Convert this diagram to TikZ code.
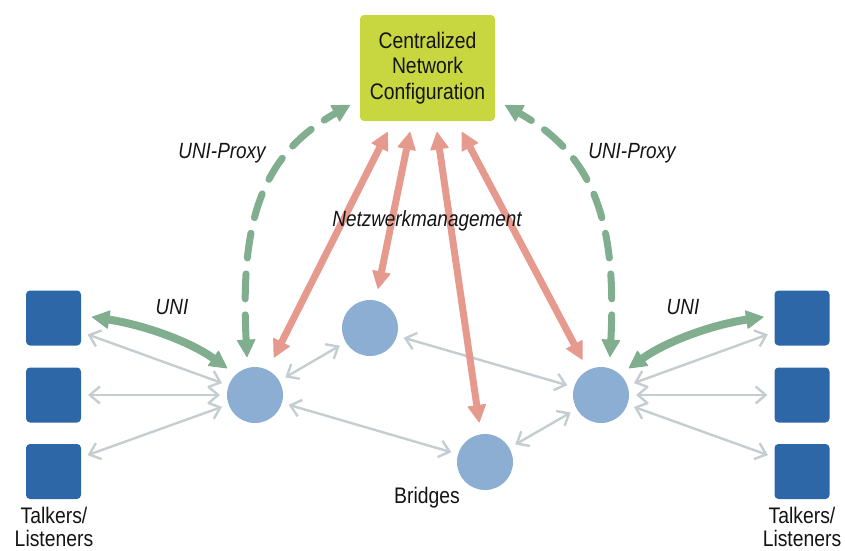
\documentclass[tikz,border=0pt]{standalone}
\usepackage{fontspec}
\setmainfont{Liberation Sans}[FakeStretch=0.86]
\usetikzlibrary{arrows.meta}
\definecolor{boxc}{HTML}{C8D640}
\definecolor{sqc}{HTML}{2D67A8}
\definecolor{brc}{HTML}{8CAED2}
\definecolor{grnc}{HTML}{80AE8F}
\definecolor{redc}{HTML}{E59A8D}
\definecolor{gryc}{HTML}{C5CDD1}
\definecolor{txtc}{HTML}{141414}
\begin{document}
\begin{tikzpicture}[x=1pt,y=-1pt,
  sqnode/.style={fill=sqc, rounded corners=4pt, minimum width=55pt, minimum height=55pt, inner sep=0pt, outer sep=0pt},
  brnode/.style={circle, fill=brc, minimum size=56pt, inner sep=0pt, outer sep=0pt},
  cncbox/.style={fill=boxc, rounded corners=4pt, minimum width=135pt, minimum height=106pt, inner sep=0pt, outer sep=0pt, align=center, text=txtc, font=\fontsize{22.5}{25.5}\selectfont},
  lbl/.style={inner sep=0pt, text=txtc, font=\fontsize{22}{24}\selectfont\itshape},
  plainlbl/.style={inner sep=0pt, text=txtc, align=center, font=\fontsize{22.5}{23}\selectfont},
  headtip/.tip={Triangle[width=19pt,length=18pt,line width=1pt,round]},
  greyarr/.style={draw=gryc, line width=2.4pt, {Straight Barb[length=10pt,width=17pt]}-{Straight Barb[length=10pt,width=17pt]}, shorten <=7pt, shorten >=7pt},
  redarr/.style={draw=redc, line width=7pt, headtip-headtip},
  dasharr/.style={draw=grnc, line width=7pt, line cap=round, dash pattern=on 25pt off 16pt, headtip-headtip},
  uniarr/.style={draw=grnc, line width=8pt, headtip-headtip}
]
\useasboundingbox (0,0) rectangle (845,550);

% nodes
\node[cncbox] (cnc) at (427.5,68) {Centralized\\Network\\Configuration};
\node[brnode] (b1) at (255,395) {};
\node[brnode] (b2) at (370,328) {};
\node[brnode] (b3) at (485,462) {};
\node[brnode] (b4) at (601,395) {};
\node[sqnode] (L1) at (53.5,318) {};
\node[sqnode] (L2) at (53.5,395) {};
\node[sqnode] (L3) at (53.5,471.5) {};
\node[sqnode] (R1) at (802,318) {};
\node[sqnode] (R2) at (802,395) {};
\node[sqnode] (R3) at (802,471.5) {};

% grey links
\draw[greyarr] (L1.-27) -- (b1);
\draw[greyarr] (L2) -- (b1);
\draw[greyarr] (L3.27) -- (b1);
\draw[greyarr] (b1) -- (b2);
\draw[greyarr] (b1) -- (b3);
\draw[greyarr] (b2) -- (b4);
\draw[greyarr] (b3) -- (b4);
\draw[greyarr] (b4) -- (R1.207);
\draw[greyarr] (b4) -- (R2);
\draw[greyarr] (b4) -- (R3.153);

% red management arrows
\draw[redarr, shorten >=14pt] ([shift={(-40,11)}]cnc.south) -- (b1);
\draw[redarr, shorten >=12pt] ([shift={(-17.5,11)}]cnc.south) -- (b2);
\draw[redarr, shorten >=12pt] ([shift={(9.5,11)}]cnc.south) -- (b3);
\draw[redarr, shorten >=12pt] ([shift={(34.5,11)}]cnc.south) -- (b4);

% green dashed UNI-Proxy arcs
\draw[dasharr] ([shift={(-8,-38)}]b1.center) .. controls +(-7,-137) and +(-88,50) .. ([shift={(-10,-16)}]cnc.south west);
\draw[dasharr] ([shift={(9,-38)}]b4.center) .. controls +(7,-137) and +(88,50) .. ([shift={(10,-16)}]cnc.south east);

% green UNI arrows
\draw[uniarr] ([shift={(11,-1)}]L1.east) .. controls +(52,8) and +(-38,-27) .. ([shift={(-8,-7)}]b1.135);
\draw[uniarr] ([shift={(8,-7)}]b4.45) .. controls +(38,-27) and +(-52,8) .. ([shift={(-11,-1)}]R1.west);

% labels
\node[lbl] (proxyL) at (222,153) {UNI-Proxy};
\node[lbl] (proxyR) at (632,153) {UNI-Proxy};
\node[lbl] (netz) at (427,221) {Netzwerkmanagement};
\node[lbl] (uniL) at (172,307) {UNI};
\node[lbl] (uniR) at (683,307) {UNI};
\node[plainlbl] (bridges) at (427,498) {Bridges};
\node[plainlbl] (talkL) at (54,527) {Talkers/\\Listeners};
\node[plainlbl] (talkR) at (802,527) {Talkers/\\Listeners};
\end{tikzpicture}
\end{document}
